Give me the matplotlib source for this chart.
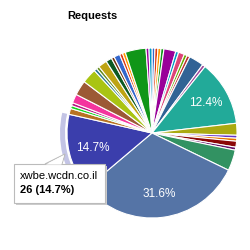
import matplotlib
matplotlib.use('Agg')
import matplotlib.pyplot as plt
from matplotlib.patches import Wedge, Rectangle, Polygon

plt.rcParams['font.family'] = ['Liberation Sans', 'DejaVu Sans']

# 请求数（按数据顺序，Google Charts 默认配色）
counts = [1, 1, 1, 1, 4, 1, 2, 1, 1, 5, 1,
          22,
          4, 1, 1, 2, 1, 7,
          56, 26,
          2, 1, 1, 3, 5, 5, 1, 1, 3, 2, 1, 2, 1, 1, 7, 1, 1]
palette = ["#3366cc", "#dc3912", "#ff9900", "#109618", "#990099", "#0099c6",
           "#dd4477", "#66aa00", "#b82e2e", "#316395", "#994499", "#22aa99",
           "#aaaa11", "#6633cc", "#e67300", "#8b0707", "#651067", "#329262",
           "#5574a6", "#3b3eac", "#b77322", "#16d620", "#b91383", "#f4359e",
           "#9c5935", "#a9c413", "#2a778d", "#668d1c", "#bea413", "#0c5922",
           "#743411"]
colors = [palette[i % len(palette)] for i in range(len(counts))]
hover_idx = 19
hover_name = "xwbe.wcdn.co.il"

fig = plt.figure(figsize=(2.5, 2.5), dpi=100)
ax = fig.add_axes([0, 0, 1, 1])
ax.set_xlim(0, 250)
ax.set_ylim(0, 250)
ax.set_aspect('equal')
ax.axis('off')

cx, cy, r = 152, 250 - 133, 85
total = sum(counts)


def fmt(p):
    return f"{p:.1f}%" if p > 10 else ""


wedges, texts, autotexts = ax.pie(
    counts, colors=colors, startangle=90, counterclock=False,
    center=(cx, cy), radius=r, autopct=fmt, pctdistance=0.72,
    wedgeprops=dict(edgecolor='white', linewidth=0.8),
    textprops=dict(color='white', fontsize=8.5))
ax.set_xlim(0, 250)
ax.set_ylim(0, 250)

# 悬停高亮环
w = wedges[hover_idx]
ring = Wedge((cx, cy), r + 7, w.theta1, w.theta2, width=5,
             facecolor=palette[hover_idx % len(palette)], alpha=0.3,
             edgecolor='none')
ax.add_patch(ring)

ax.text(92, 250 - 16, "Requests", fontsize=8, fontweight='bold',
        ha='center', va='center')

# 提示框
bx0, by0, bx1, by1 = 14, 250 - 203, 105, 250 - 164
ax.add_patch(Rectangle((bx0 + 1.5, by0 - 1.5), bx1 - bx0, by1 - by0,
                       facecolor='#cccccc', edgecolor='none', zorder=9))
ax.add_patch(Polygon([(45, by1), (65, 250 - 154), (62, by1)],
                     closed=True, facecolor='white', edgecolor='#bbbbbb',
                     linewidth=0.8, zorder=10))
ax.add_patch(Rectangle((bx0, by0), bx1 - bx0, by1 - by0,
                       facecolor='white', edgecolor='#bbbbbb',
                       linewidth=0.8, zorder=10))
ax.add_patch(Polygon([(45.8, by1 - 0.6), (64, 250 - 155), (61.4, by1 - 0.6)],
                     closed=True, facecolor='white', edgecolor='none',
                     zorder=11))
pct = counts[hover_idx] / total * 100
ax.text(20, 250 - 176, hover_name, fontsize=8, ha='left', va='center',
        zorder=12)
ax.text(20, 250 - 190, f"{counts[hover_idx]} ({pct:.1f}%)", fontsize=8,
        fontweight='bold', ha='left', va='center', zorder=12)

fig.savefig('out.png', dpi=100)
